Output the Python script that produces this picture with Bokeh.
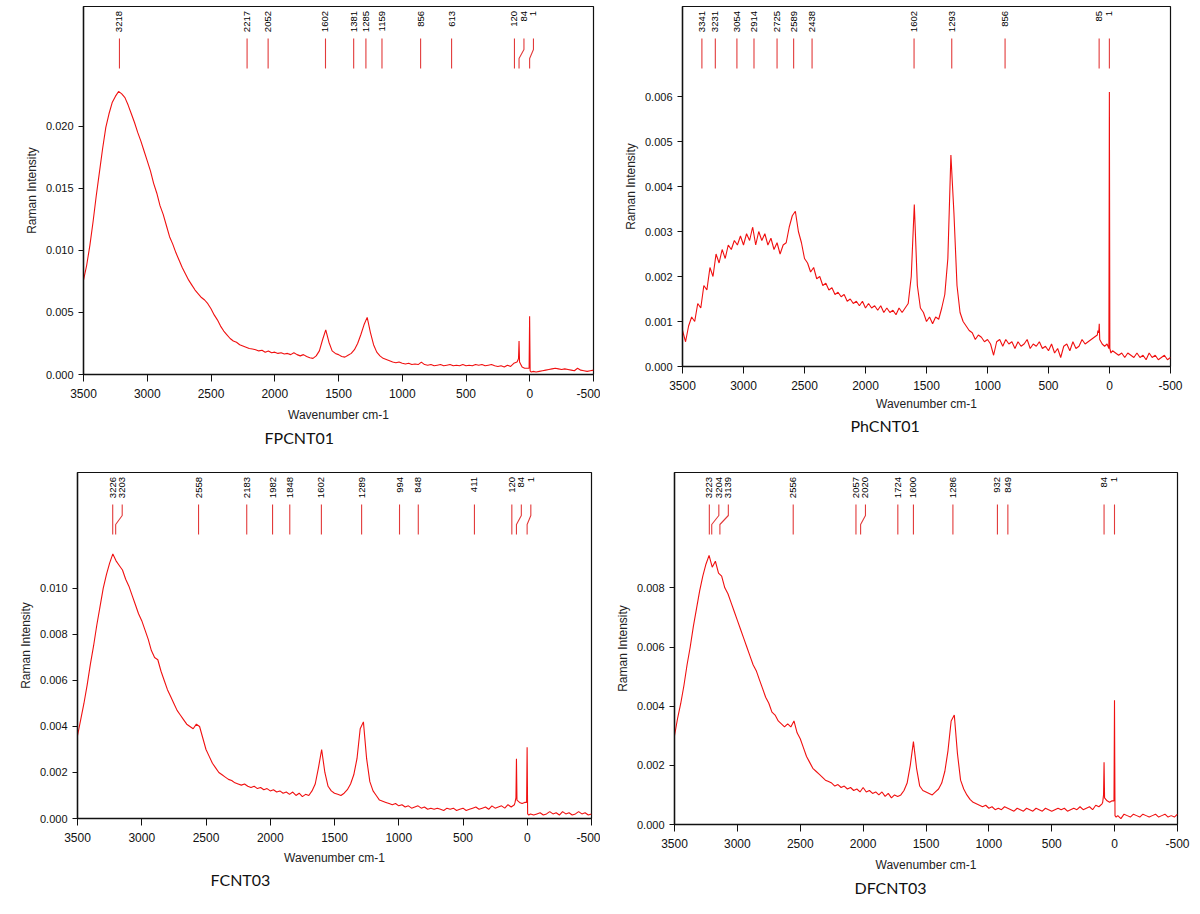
import math
from bokeh.plotting import figure
from bokeh.models import Range1d, FixedTicker, NumeralTickFormatter, Title
from bokeh.layouts import column, row
from bokeh.embed import file_html
from bokeh.resources import INLINE
from bokeh.core.properties import value

# ---------------- data ----------------
WN_MAIN = list(range(3500, 99, -25))
WN_FINE = [95, 88, 84, 80, 60, 40, 20, 5, 1, -3, -12]
WN_TAIL = list(range(-25, -501, -25))
WAVENUMBER = WN_MAIN + WN_FINE + WN_TAIL

X_TICKS = [3500, 3000, 2500, 2000, 1500, 1000, 500, 0, -500]
X_TICK_LABELS = ["3500", "3000", "2500", "2000", "1500", "1000", "500", "0", "-500"]

# intensities in units of 1e-3
FP_MAIN = [7.6, 8.8, 10.4, 12.3, 14.4, 16.3, 18.2, 19.9, 21.0, 21.9,
           22.4, 22.8, 22.6, 22.3, 21.7, 21.0, 20.3, 19.5, 18.8, 18.0,
           17.2, 16.4, 15.4, 14.6, 13.6, 12.9, 12.0, 11.1, 10.5, 9.8,
           9.2, 8.6, 8.1, 7.6, 7.2, 6.8, 6.5, 6.2, 6.0, 5.7,
           5.3, 4.8, 4.4, 3.9, 3.5, 3.2, 2.9, 2.7, 2.6, 2.4,
           2.3, 2.2, 2.1, 2.05, 2.0, 1.9, 1.95, 1.8, 1.9, 1.75,
           1.8, 1.7, 1.75, 1.65, 1.7, 1.6, 1.75, 1.6, 1.5, 1.6,
           1.45, 1.35, 1.3, 1.5, 1.9, 2.8, 3.6, 2.6, 1.9, 1.7,
           1.6, 1.45, 1.4, 1.55, 1.7, 2.0, 2.5, 3.2, 4.0, 4.6,
           3.4, 2.4, 1.8, 1.5, 1.3, 1.2, 1.1, 1.0, 0.95, 1.0,
           0.9, 0.85, 0.9, 0.8, 0.85, 0.8, 1.0, 0.8, 0.75, 0.8,
           0.7, 0.75, 0.8, 0.7, 0.75, 0.8, 0.7, 0.75, 0.7, 0.8,
           0.7, 0.75, 0.7, 0.8, 0.75, 0.8, 0.7, 0.75, 0.8, 0.7,
           0.65, 0.7, 0.6, 0.75, 0.65, 0.9, 1.0]
FP_FINE = [1.1, 1.3, 2.7, 1.0, 0.6, 0.5, 0.5, 0.5, 4.7, 0.3, 0.2]
FP_TAIL = [0.25, 0.2, 0.25, 0.3, 0.35, 0.4, 0.45, 0.5, 0.45, 0.4,
           0.45, 0.4, 0.35, 0.3, 0.5, 0.35, 0.3, 0.25, 0.3, 0.35]

PH_MAIN = [0.8, 0.55, 0.9, 1.1, 1.0, 1.4, 1.3, 1.8, 1.7, 2.2,
           2.0, 2.5, 2.3, 2.6, 2.4, 2.7, 2.6, 2.8, 2.7, 2.9,
           2.7, 2.95, 2.8, 3.1, 2.7, 3.0, 2.8, 2.95, 2.7, 2.85,
           2.6, 2.75, 2.5, 2.7, 2.75, 3.1, 3.35, 3.45, 3.0, 2.75,
           2.4, 2.3, 2.1, 2.2, 1.95, 2.0, 1.8, 1.85, 1.7, 1.75,
           1.6, 1.65, 1.55, 1.6, 1.45, 1.5, 1.4, 1.45, 1.35, 1.45,
           1.3, 1.4, 1.3, 1.35, 1.25, 1.35, 1.2, 1.3, 1.2, 1.25,
           1.15, 1.3, 1.2, 1.3, 1.4, 2.0, 3.6, 1.8, 1.3, 1.2,
           1.0, 1.1, 0.95, 1.1, 1.05, 1.3, 1.6, 2.4, 4.7, 3.4,
           1.8, 1.2, 1.0, 0.9, 0.8, 0.75, 0.6, 0.7, 0.65, 0.55,
           0.6, 0.5, 0.25, 0.55, 0.6, 0.45, 0.6, 0.5, 0.55, 0.4,
           0.55, 0.45, 0.5, 0.6, 0.4, 0.5, 0.45, 0.55, 0.4, 0.45,
           0.35, 0.5, 0.3, 0.4, 0.2, 0.45, 0.5, 0.35, 0.55, 0.4,
           0.45, 0.6, 0.5, 0.55, 0.6, 0.65, 0.7]
PH_FINE = [0.8, 0.75, 0.95, 0.6, 0.5, 0.45, 0.5, 0.4, 6.1, 0.4, 0.3]
PH_TAIL = [0.35, 0.3, 0.25, 0.3, 0.2, 0.3, 0.25, 0.2, 0.3, 0.2,
           0.25, 0.15, 0.3, 0.2, 0.25, 0.15, 0.2, 0.25, 0.15, 0.2]

FC_MAIN = [3.6, 4.3, 5.0, 5.8, 6.7, 7.5, 8.4, 9.2, 10.0, 10.6,
           11.1, 11.5, 11.2, 11.0, 10.8, 10.4, 10.1, 9.7, 9.3, 8.9,
           8.6, 8.2, 7.8, 7.3, 7.0, 6.9, 6.4, 6.0, 5.6, 5.3,
           5.0, 4.7, 4.5, 4.3, 4.1, 4.0, 3.9, 4.1, 4.0, 3.5,
           3.0, 2.7, 2.4, 2.2, 2.0, 1.9, 1.8, 1.7, 1.65, 1.55,
           1.5, 1.45, 1.5, 1.4, 1.35, 1.4, 1.3, 1.35, 1.25, 1.3,
           1.2, 1.25, 1.15, 1.2, 1.1, 1.15, 1.05, 1.15, 1.0, 1.1,
           0.95, 1.05, 1.0, 1.2, 1.5, 2.2, 3.0, 2.0, 1.4, 1.2,
           1.1, 1.05, 1.0, 1.1, 1.25, 1.5, 1.9, 2.6, 3.9, 4.2,
           2.6, 1.6, 1.2, 1.0, 0.8, 0.75, 0.7, 0.65, 0.6, 0.65,
           0.55, 0.6, 0.5, 0.55, 0.45, 0.5, 0.55, 0.45, 0.5, 0.4,
           0.45, 0.4, 0.45, 0.4, 0.35, 0.45, 0.4, 0.45, 0.35, 0.4,
           0.45, 0.35, 0.4, 0.45, 0.5, 0.4, 0.45, 0.5, 0.4, 0.55,
           0.45, 0.5, 0.55, 0.45, 0.6, 0.5, 0.6]
FC_FINE = [0.7, 0.9, 2.6, 0.8, 0.7, 0.65, 0.7, 0.7, 3.1, 0.2, 0.15]
FC_TAIL = [0.2, 0.15, 0.2, 0.25, 0.15, 0.2, 0.3, 0.2, 0.25, 0.15,
           0.3, 0.2, 0.25, 0.15, 0.2, 0.3, 0.2, 0.25, 0.15, 0.2]

DF_MAIN = [3.0, 3.6, 4.1, 4.7, 5.4, 6.0, 6.7, 7.3, 7.9, 8.4,
           8.8, 9.1, 8.7, 8.9, 8.5, 8.4, 8.0, 7.8, 7.5, 7.2,
           6.9, 6.6, 6.3, 6.0, 5.7, 5.4, 5.2, 4.9, 4.6, 4.3,
           4.1, 3.8, 3.7, 3.5, 3.4, 3.3, 3.4, 3.3, 3.5, 3.1,
           2.9, 2.6, 2.3, 2.1, 1.9, 1.8, 1.7, 1.6, 1.5, 1.45,
           1.4, 1.3, 1.35, 1.25, 1.3, 1.2, 1.25, 1.15, 1.2, 1.1,
           1.25, 1.1, 1.15, 1.05, 1.1, 1.0, 1.1, 0.95, 1.05, 0.9,
           1.0, 0.95, 1.0, 1.15, 1.4, 2.0, 2.8, 1.9, 1.3, 1.15,
           1.1, 1.05, 1.0, 1.1, 1.2, 1.4, 1.8, 2.5, 3.5, 3.7,
           2.4, 1.5, 1.2, 1.0, 0.85, 0.75, 0.7, 0.65, 0.6, 0.65,
           0.55, 0.6, 0.5, 0.55, 0.5, 0.6, 0.55, 0.5, 0.45, 0.55,
           0.5, 0.45, 0.55, 0.5, 0.45, 0.55, 0.5, 0.45, 0.55, 0.5,
           0.45, 0.5, 0.55, 0.5, 0.55, 0.45, 0.5, 0.55, 0.5, 0.6,
           0.5, 0.55, 0.6, 0.5, 0.65, 0.6, 0.7]
DF_FINE = [0.75, 1.0, 2.1, 0.9, 0.8, 0.75, 0.8, 0.8, 4.2, 0.3, 0.25]
DF_TAIL = [0.3, 0.2, 0.35, 0.3, 0.25, 0.35, 0.3, 0.25, 0.35, 0.3,
           0.25, 0.3, 0.35, 0.25, 0.3, 0.35, 0.25, 0.3, 0.25, 0.35]

FP_PEAKS = [3218, 2217, 2052, 1602, 1381, 1285, 1159, 856, 613, 120, 84, 1]
PH_PEAKS = [3341, 3231, 3054, 2914, 2725, 2589, 2438, 1602, 1293, 856, 85, 1]
FC_PEAKS = [3226, 3203, 2558, 2183, 1982, 1848, 1602, 1289, 994, 848, 411, 120, 84, 1]
DF_PEAKS = [3223, 3204, 3139, 2556, 2057, 2020, 1724, 1600, 1286, 932, 849, 84, 1]

FP_YTICKS = [0.0, 0.005, 0.010, 0.015, 0.020]
PH_YTICKS = [0.0, 0.001, 0.002, 0.003, 0.004, 0.005, 0.006]
FC_YTICKS = [0.0, 0.002, 0.004, 0.006, 0.008, 0.010]
DF_YTICKS = [0.0, 0.002, 0.004, 0.006, 0.008]

# ---------------- styling ----------------
RED = "#f01010"
MARK_RED = "#e23a3a"
FONT = "Liberation Sans"


def make_panel(caption, main, fine, tail, peaks, yticks, y_end,
               fw, fh, bl, bt, br, bb, cap_offset, cap_standoff=2,
               xlabel_standoff=7):
    vals = main + fine + tail
    assert len(vals) == len(WAVENUMBER), (caption, len(vals))
    ys = [v * 1e-3 for v in vals]

    p = figure(frame_width=fw, frame_height=fh,
               min_border_left=bl, min_border_top=bt,
               min_border_right=br, min_border_bottom=bb,
               x_range=Range1d(3500, -500), y_range=Range1d(0, y_end),
               output_backend="svg", toolbar_location=None,
               background_fill_color="white", border_fill_color="white")
    p.xgrid.visible = False
    p.ygrid.visible = False
    p.outline_line_color = "#111111"
    p.outline_line_width = 1.2

    p.line(WAVENUMBER, ys, line_color=RED, line_width=1.1)

    # peak markers (pixel range measured from the frame top)
    p.extra_y_ranges = {"px": Range1d(start=fh, end=0)}
    px_per_wn = fw / 4000.0
    sep = 9.5 / px_per_wn
    lab = []
    for i, pk in enumerate(peaks):
        if i == 0:
            lab.append(pk)
        else:
            lab.append(min(pk, lab[-1] - sep))
    top, b_hi, b_lo, bot = 32, 43, 52, 62
    xs = [[pk, pk, lx, lx] for pk, lx in zip(peaks, lab)]
    yy = [[bot, b_lo, b_hi, top] for _ in peaks]
    p.multi_line(xs, yy, y_range_name="px", line_color=MARK_RED, line_width=1.1)
    p.text(x=lab, y=[4.5] * len(peaks), text=[str(v) for v in peaks],
           angle=math.pi / 2, text_align="right", text_baseline="middle",
           y_range_name="px", text_font=value(FONT), text_font_size="9.5px",
           text_color="black")

    for ax in (p.xaxis[0], p.yaxis[0]):
        ax.axis_line_color = "#111111"
        ax.axis_line_width = 1.4
        ax.major_tick_line_color = "#111111"
        ax.major_tick_in = 0
        ax.minor_tick_line_color = None
        ax.major_label_text_font = FONT
        ax.major_label_text_color = "#111111"
        ax.axis_label_text_font = FONT
        ax.axis_label_text_font_style = "normal"
        ax.axis_label_text_font_size = "12px"
        ax.axis_label_text_color = "#222222"

    xa = p.xaxis[0]
    xa.ticker = FixedTicker(ticks=X_TICKS)
    xa.major_label_overrides = {t: s for t, s in zip(X_TICKS, X_TICK_LABELS)}
    xa.major_tick_out = 7
    xa.major_label_standoff = 7
    xa.major_label_text_font_size = "12px"
    xa.axis_label = "Wavenumber cm-1"
    xa.axis_label_standoff = xlabel_standoff

    ya = p.yaxis[0]
    ya.ticker = FixedTicker(ticks=yticks)
    ya.formatter = NumeralTickFormatter(format="0.000")
    ya.major_tick_out = 5
    ya.major_label_standoff = 5
    ya.major_label_text_font_size = "11px"
    ya.axis_label = "Raman Intensity"
    ya.axis_label_standoff = 4

    p.add_layout(Title(text=caption, align="left", offset=cap_offset,
                       text_font="Lato", text_font_size="16px",
                       text_font_style="normal", text_color="#111111",
                       standoff=cap_standoff), "below")
    return p


p1 = make_panel("FPCNT01", FP_MAIN, FP_FINE, FP_TAIL, FP_PEAKS, FP_YTICKS, 0.02964,
                fw=510, fh=368, bl=83, bt=6, br=7, bb=90, cap_offset=181)
p2 = make_panel("PhCNT01", PH_MAIN, PH_FINE, PH_TAIL, PH_PEAKS, PH_YTICKS, 0.0080,
                fw=488, fh=360, bl=82, bt=6, br=22, bb=98, cap_offset=168,
                cap_standoff=0, xlabel_standoff=4)
p3 = make_panel("FCNT03", FC_MAIN, FC_FINE, FC_TAIL, FC_PEAKS, FC_YTICKS, 0.01504,
                fw=514, fh=346, bl=77, bt=8, br=9, bb=70, cap_offset=133,
                cap_standoff=0, xlabel_standoff=6)
p4 = make_panel("DFCNT03", DF_MAIN, DF_FINE, DF_TAIL, DF_PEAKS, DF_YTICKS, 0.0119,
                fw=503, fh=352, bl=74, bt=8, br=23, bb=74, cap_offset=180)

layout = column(row(p1, p2), row(p3, p4))
open("out.html", "w").write(file_html(layout, INLINE))
